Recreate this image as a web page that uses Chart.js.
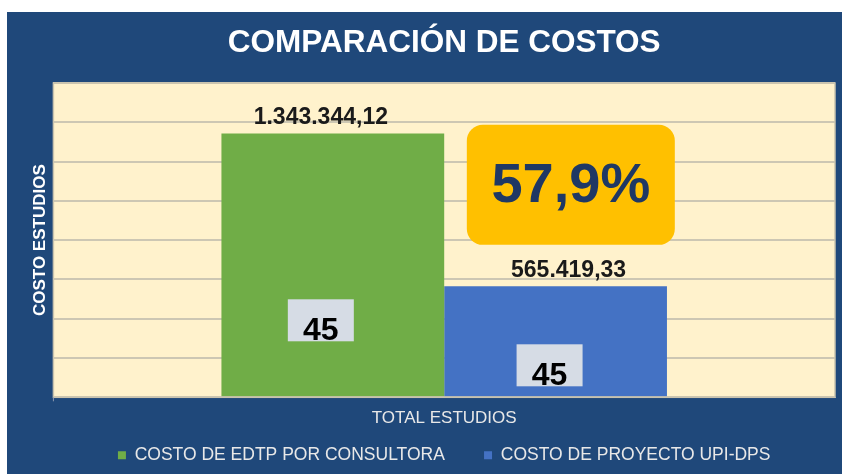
<!DOCTYPE html>
<html lang="es">
<head>
<meta charset="utf-8">
<title>Comparación de costos</title>
<script src="https://cdn.jsdelivr.net/npm/chart.js@4.4.1/dist/chart.umd.min.js"></script>
<style>
  body { margin: 0; background: #fff; }
  #marco { position: absolute; left: 7px; top: 12px; width: 835px; height: 462px; background: #1f487a; }
</style>
</head>
<body>
<div id="marco"><canvas id="grafico" width="835" height="462"></canvas></div>
<script>
// Datos del gráfico
const categorias = ['TOTAL ESTUDIOS'];
const series = ['COSTO DE EDTP POR CONSULTORA', 'COSTO DE PROYECTO UPI-DPS'];
const costos = [1343344.12, 565419.33];
const estudios = [45, 45];
const colores = ['#70ad47', '#4472c4'];
const ejeY = { min: 0, max: 1600000, paso: 200000 };

const FUENTE = "'Liberation Sans', Arial, sans-serif";

// 1343344.12 -> "1.343.344,12"
function formatoMoneda(v) {
  const [ent, dec] = v.toFixed(2).split('.');
  return ent.replace(/\B(?=(\d{3})+(?!\d))/g, '.') + ',' + dec;
}

function cajaRedondeada(ctx, x, y, w, h, r) {
  ctx.beginPath();
  ctx.moveTo(x + r, y);
  ctx.arcTo(x + w, y, x + w, y + h, r);
  ctx.arcTo(x + w, y + h, x, y + h, r);
  ctx.arcTo(x, y + h, x, y, r);
  ctx.arcTo(x, y, x + w, y, r);
  ctx.closePath();
}

// Fondo crema del área de trazado y su borde
const fondoArea = {
  id: 'fondoArea',
  beforeDraw(chart) {
    const { ctx, chartArea: a } = chart;
    ctx.save();
    ctx.fillStyle = '#fff2cc';
    ctx.fillRect(a.left, a.top, a.right - a.left, a.bottom - a.top);
    ctx.restore();
  },
  afterDraw(chart) {
    const { ctx, chartArea: a } = chart;
    ctx.save();
    ctx.strokeStyle = '#c9c3ae';
    ctx.lineWidth = 1.5;
    ctx.strokeRect(a.left, a.top, a.right - a.left, a.bottom - a.top);
    // pequeña marca bajo el eje vertical
    ctx.strokeStyle = '#8e9bb0';
    ctx.lineWidth = 1;
    ctx.beginPath();
    ctx.moveTo(a.left, a.bottom);
    ctx.lineTo(a.left, a.bottom + 4);
    ctx.stroke();
    ctx.restore();
  }
};

// Valores encima de las barras y cajas con la cantidad de estudios
const etiquetas = {
  id: 'etiquetas',
  afterDatasetsDraw(chart, args, opts) {
    const { ctx } = chart;
    ctx.save();
    chart.data.datasets.forEach((ds, i) => {
      const bar = chart.getDatasetMeta(i).data[0];
      if (!bar) return;
      ctx.fillStyle = '#1a1a1a';
      ctx.font = `bold 23px ${FUENTE}`;
      ctx.textAlign = 'center';
      ctx.textBaseline = 'middle';
      ctx.fillText(formatoMoneda(ds.data[0]), bar.x + opts.dxValor[i], bar.y - 16);

      const cx = bar.x + opts.dxCaja[i];
      const cy = bar.base - opts.altoCaja[i];
      ctx.fillStyle = '#d6dce5';
      ctx.fillRect(cx - 33, cy - 21, 66, 42);
      ctx.fillStyle = '#000';
      ctx.font = `bold 32px ${FUENTE}`;
      ctx.textBaseline = 'alphabetic';
      ctx.fillText(String(estudios[i]), cx, cy + 20);
    });
    ctx.restore();
  }
};

// Caja amarilla con el porcentaje de ahorro
const ahorro = {
  id: 'ahorro',
  afterDatasetsDraw(chart, args, opts) {
    const { ctx, chartArea: a } = chart;
    const pct = (1 - costos[1] / costos[0]) * 100;
    const cx = a.left + (a.right - a.left) * opts.x;
    const cy = a.top + (a.bottom - a.top) * opts.y;
    ctx.save();
    ctx.fillStyle = '#ffc000';
    cajaRedondeada(ctx, cx - 104, cy - 60, 208, 120, 16);
    ctx.fill();
    ctx.fillStyle = '#1f3864';
    ctx.font = `bold 56px ${FUENTE}`;
    ctx.textAlign = 'center';
    ctx.textBaseline = 'middle';
    ctx.fillText(pct.toFixed(1).replace('.', ',') + '%', cx, cy + 2);
    ctx.restore();
  }
};

new Chart(document.getElementById('grafico'), {
  type: 'bar',
  data: {
    labels: categorias,
    datasets: series.map((s, i) => ({
      label: s,
      data: [costos[i]],
      backgroundColor: colores[i],
      borderWidth: 0,
      categoryPercentage: 0.57,
      barPercentage: 1
    }))
  },
  options: {
    responsive: false,
    animation: false,
    layout: { padding: { left: 0, right: 7, top: 0, bottom: 0 } },
    plugins: {
      title: {
        display: true,
        fullSize: false,
        text: 'COMPARACIÓN DE COSTOS',
        color: '#ffffff',
        font: { family: FUENTE, size: 31.5, weight: 'bold' },
        padding: { top: 12.5, bottom: 20.7 }
      },
      legend: {
        position: 'bottom',
        fullSize: false,
        labels: {
          color: '#e8e8e8',
          font: { family: FUENTE, size: 17.5 },
          boxWidth: 8,
          boxHeight: 8,
          padding: 10,
          // separación extra entre las dos entradas de la leyenda
          generateLabels(chart) {
            const items = Chart.defaults.plugins.legend.labels.generateLabels(chart);
            items.forEach((it, i) => {
              if (i < items.length - 1) it.text += '\u00a0'.repeat(6);
            });
            return items;
          }
        }
      },
      tooltip: { enabled: false },
      etiquetas: { dxValor: [-12, 13], dxCaja: [-12, -6], altoCaja: [76, 31] },
      ahorro: { x: 0.662, y: 0.324 }
    },
    scales: {
      x: {
        grid: { display: false, drawTicks: false },
        border: { color: '#8e9bb0', width: 1 },
        ticks: { display: false },
        title: {
          display: true,
          text: categorias[0],
          color: '#e8e8e8',
          font: { family: FUENTE, size: 17 },
          padding: { top: 10.8, bottom: 8 }
        }
      },
      y: {
        min: ejeY.min,
        max: ejeY.max,
        ticks: { display: false, stepSize: ejeY.paso },
        grid: { color: '#cdc7b3', lineWidth: 2, drawTicks: false },
        border: { display: false },
        title: {
          display: true,
          text: 'COSTO ESTUDIOS',
          color: '#ffffff',
          font: { family: FUENTE, size: 17, weight: 'bold' },
          padding: { top: 23, bottom: 3 }
        }
      }
    }
  },
  plugins: [fondoArea, etiquetas, ahorro]
});
</script>
</body>
</html>
